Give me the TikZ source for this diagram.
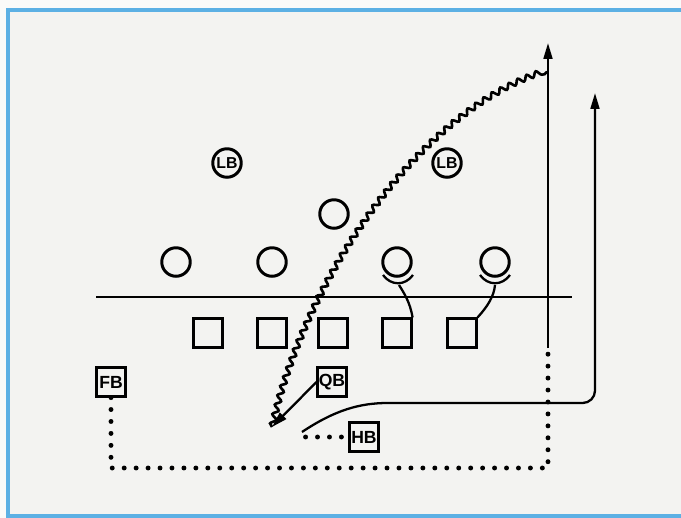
\documentclass[tikz,border=0pt]{standalone}
\usepackage{fontspec}
\setsansfont{Liberation Sans}
\usepackage{tikz}
\usetikzlibrary{positioning, arrows.meta, shapes, decorations.pathmorphing}

\definecolor{frameblue}{RGB}{92,176,228}
\definecolor{paper}{RGB}{243,243,241}

\begin{document}
\begin{tikzpicture}
            [x=0.02cm, y=-0.02cm,
             defender/.style={circle, draw, line width=1.7pt, minimum size=0.57cm, inner sep=0pt,
                              font=\sffamily\bfseries\small},
             blocker/.style={rectangle, draw, line width=1.5pt, minimum size=0.57cm, inner sep=0pt,
                             font=\sffamily\bfseries},
             route/.style={line width=1.3pt},
             fake/.style={line width=2.8pt, dash pattern=on 0pt off 6.8pt, line cap=round},
             pass/.style={line width=1.5pt, decorate,
                          decoration={snake, segment length=5.5pt, amplitude=1.5pt}},
             >={Triangle[length=9pt, width=5pt]}]

            \useasboundingbox (0,0) rectangle (681,518);
            \fill[white!60!paper] (0,0) rectangle (681,518);
            \fill[paper] (8,10) rectangle (681,516);
            \draw[frameblue, line width=1.8pt] (690,10) -- (8,10) -- (8,516) -- (690,516);

            % defense
            \node[defender] (LBa) at (227,163) {LB};
            \node[defender] (LBb) at (447,163) {LB};
            \node[defender] (MLB) at (334,214) {};
            \node[defender] (DLa) at (176,262) {};
            \node[defender] (DLb) at (272,262) {};
            \node[defender] (DLc) at (397,262) {};
            \node[defender] (DLd) at (495,262) {};

            \draw[line width=1.1pt] (96,297) -- (572,297);

            % offense
            \node[blocker] (LT) at (208,333) {};
            \node[blocker] (LG) at (272,333) {};
            \node[blocker] (C)  at (333,333) {};
            \node[blocker] (RG) at (397,333) {};
            \node[blocker] (RT) at (462,333) {};
            \node[blocker] (FB) at (111,382) {FB};
            \node[blocker] (QB) at (332,382) {QB};
            \node[blocker] (HB) at (364,437) {HB};

            \coordinate (drop) at (272,427);
            \coordinate (hitC) at (399,285);
            \coordinate (hitD) at (495,285);
            \coordinate (fbA) at (111,468);
            \coordinate (fbB) at (548,468);
            \coordinate (fbC) at (548,348);
            \coordinate (fbUp) at (548,43);
            \coordinate (hbA) at (298,437);
            \coordinate (hbB) at (302,432);
            \coordinate (hbUp) at (595,93);

            % blocks
            \foreach \x in {398, 495} {
                \draw[route] (\x-15,275) .. controls (\x-7,286) and (\x+7,286) .. (\x+15,275);
            }
            \draw[route] (RG.north east) .. controls (410,302) and (404,293) .. (hitC);
            \draw[route] (RT.north east) .. controls (488,306) and (494,296) .. (hitD);

            % routes
            \draw[fake] (FB.south) -- (fbA) -- (fbB) -- (fbC);
            \draw[route, ->] (fbC) -- (fbUp);
            \draw[fake, shorten <=4pt] (HB.west) -- (hbA);
            \draw[route, ->, rounded corners=7pt] (hbB) .. controls (335,410) and (360,403) .. (400,403)
                -- (595,403) -- (hbUp);
            \draw[route, ->] (QB.west) -- (drop);
            \draw[pass] (drop) .. controls (305,280) and (420,110) .. (548,72);
        \end{tikzpicture}
\end{document}
